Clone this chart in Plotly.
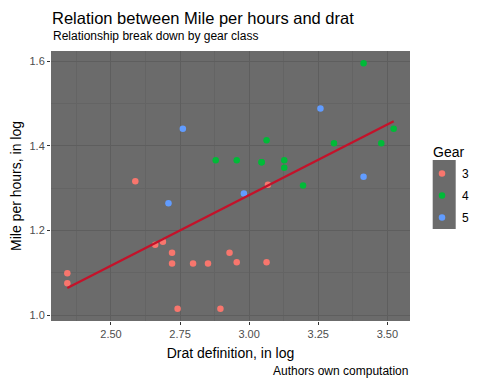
import numpy as np
import plotly.graph_objects as go

# values (x: log scale value, y: log scale value), by gear class
gear_labels = ["3", "4", "5"]
x_gear3 = [3.063, 2.929, 2.896, 2.660, 2.797, 2.851, 2.721, 2.342, 2.342, 2.688, 3.068, 2.741, 2.721, 2.588, 2.955]
y_gear3 = [1.125, 1.147, 1.015, 1.166, 1.122, 1.122, 1.122, 1.075, 1.099, 1.173, 1.308, 1.015, 1.147, 1.316, 1.125]
x_gear4 = [3.045, 3.045, 3.127, 3.195, 3.127, 2.955, 2.879, 3.478, 3.414, 3.523, 3.307, 3.063]
y_gear4 = [1.361, 1.361, 1.348, 1.306, 1.366, 1.366, 1.366, 1.406, 1.595, 1.440, 1.406, 1.413]
x_gear5 = [3.258, 3.414, 2.760, 2.981, 2.708]
y_gear5 = [1.488, 1.327, 1.440, 1.287, 1.264]

colors = ["#F8766D", "#00BA38", "#619CFF"]
xs = [x_gear3, x_gear4, x_gear5]
ys = [y_gear3, y_gear4, y_gear5]

FONT = "Liberation Sans, Arial, Helvetica, sans-serif"

fig = go.Figure()
for lab, x, y, c in zip(gear_labels, xs, ys, colors):
    fig.add_trace(go.Scatter(x=x, y=y, mode="markers", name=lab,
                             marker=dict(color=c, size=6.5, line=dict(width=0)),
                             legendgroup=lab))

# linear fit over all points (geom_smooth(method="lm", se=FALSE))
allx = np.array(x_gear3 + x_gear4 + x_gear5)
ally = np.array(y_gear3 + y_gear4 + y_gear5)
b, a = np.polyfit(allx, ally, 1)
lx = np.array([allx.min(), allx.max()])
fig.add_trace(go.Scatter(x=lx, y=a + b * lx, mode="lines", showlegend=False,
                         line=dict(color="#C4122A", width=2.3), hoverinfo="skip"))

xr = [allx.min() - 0.05 * (allx.max() - allx.min()), allx.max() + 0.05 * (allx.max() - allx.min())]
yr = [ally.min() - 0.05 * (ally.max() - ally.min()), ally.max() + 0.05 * (ally.max() - ally.min())]

OFF = 8  # page body margin
W, H = 480 - OFF, 384 - OFF
# panel in page coords: x 51..410, y 51..321
L, T = 51 - OFF, 51 - OFF
R = W - (410 - OFF)
B = H - (321 - OFF)
pw, ph = W - L - R, H - T - B
def px(xp):  # page x -> paper
    return (xp - OFF - L) / pw
def py(yp):  # page y -> paper
    return (H - B - (yp - OFF)) / ph

axis_common = dict(showline=False, zeroline=False, ticks="outside", ticklen=3,
                   tickcolor="#333333", tickwidth=1,
                   tickfont=dict(family=FONT, size=11, color="#4D4D4D"),
                   gridcolor="#5E5E5E", gridwidth=1)

fig.update_layout(
    width=W, height=H,
    margin=dict(l=L, r=R, t=T, b=B, autoexpand=False),
    paper_bgcolor="white", plot_bgcolor="#6B6B6B",
    font=dict(family=FONT, color="black"),
    xaxis=dict(range=xr, tick0=2.5, dtick=0.25, tickformat=".2f",
               minor=dict(dtick=0.125, showgrid=True, gridcolor="#646464", gridwidth=0.6),
               title=dict(text="Drat definition, in log", font=dict(size=14, family=FONT, color="black"), standoff=8),
               **axis_common),
    yaxis=dict(range=yr, tick0=1.0, dtick=0.2, tickformat=".1f",
               minor=dict(dtick=0.1, showgrid=True, gridcolor="#646464", gridwidth=0.6),
               title=dict(text="Mile per hours, in log", font=dict(size=14, family=FONT, color="black"), standoff=5),
               **axis_common),
    showlegend=True,
    legend=dict(x=px(422), xanchor="left", y=py(159), yanchor="top",
                bgcolor="rgba(0,0,0,0)", font=dict(size=12, family=FONT, color="black"),
                traceorder="grouped", tracegroupgap=3, itemclick=False),
    shapes=[dict(type="rect", xref="paper", yref="paper", x0=px(432.7), x1=px(455.7),
                 y0=py(229), y1=py(160), fillcolor="#6B6B6B", line=dict(width=0), layer="below")],
    annotations=[
        dict(text="Relation between Mile per hours and drat", xref="paper", yref="paper",
             x=0, y=py(8), xanchor="left", yanchor="top", showarrow=False, borderpad=0,
             font=dict(size=16.5, family=FONT, color="black")),
        dict(text="Relationship break down by gear class", xref="paper", yref="paper",
             x=0, y=py(45), xanchor="left", yanchor="bottom", showarrow=False,
             font=dict(size=12, family=FONT, color="black")),
        dict(text="Authors own computation", xref="paper", yref="paper",
             x=1, y=py(380), xanchor="right", yanchor="bottom", showarrow=False,
             font=dict(size=12, family=FONT, color="black")),
        dict(text="Gear", xref="paper", yref="paper",
             x=px(431), y=py(162), xanchor="left", yanchor="bottom", showarrow=False,
             font=dict(size=14, family=FONT, color="black")),
    ],
)

fig.write_html("out.html")
